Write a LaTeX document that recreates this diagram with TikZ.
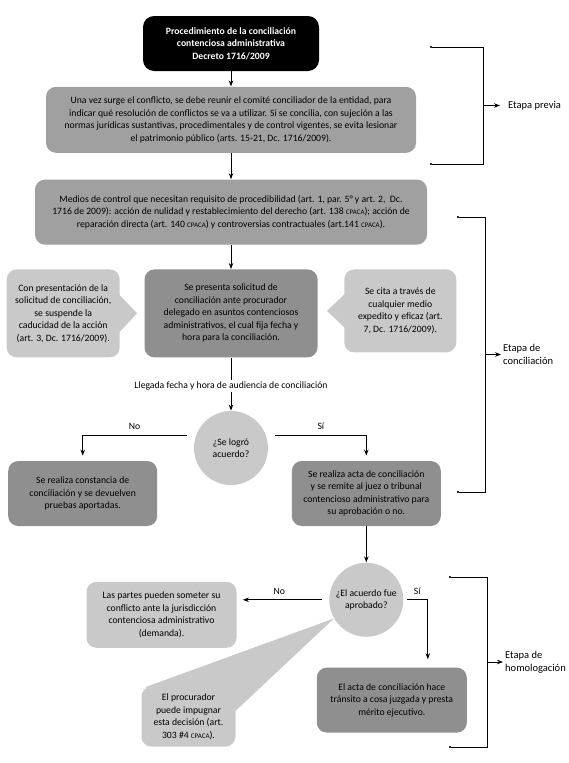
\documentclass[tikz,border=0pt]{standalone}
\usepackage{fontspec}
\setmainfont{Carlito}
\usetikzlibrary{arrows.meta}
\usetikzlibrary{positioning}
\usetikzlibrary{calc}
\usetikzlibrary{backgrounds}

\definecolor{darkfill}{HTML}{8F8F8F}
\definecolor{midfill}{HTML}{A0A0A0}
\definecolor{lightfill}{HTML}{C9C9C9}

\newcommand{\cpaca}{{\fontsize{7}{7}\selectfont CPACA}}

\begin{document}
\begin{tikzpicture}[
          x=1pt, y=-1pt,
          >={Stealth[length=6pt,width=4.5pt]}, line width=0.8pt,
          every node/.style={font=\fontsize{9.7}{12.5}\selectfont}
        ]

          % styles
          \tikzstyle{headbox}=[rectangle, rounded corners=11pt, fill=black, text=white, font=\fontsize{9.7}{12.5}\selectfont\bfseries, align=center, minimum width=176pt, minimum height=55pt]
          \tikzstyle{midbox}=[rectangle, rounded corners=10pt, fill=midfill, align=center, inner sep=2pt]
          \tikzstyle{darkbox}=[rectangle, rounded corners=10pt, fill=darkfill, align=center, inner sep=2pt]
          \tikzstyle{lightbox}=[rectangle, rounded corners=10pt, fill=lightfill, align=center, inner sep=2pt]
          \tikzstyle{question}=[circle, fill=lightfill, align=center, minimum size=74pt, inner sep=0pt]
          \tikzstyle{flow}=[->, line width=0.8pt]
          \tikzstyle{link}=[-, line width=0.8pt]
          \tikzstyle{branch}=[inner sep=1pt, text height=7pt, text depth=2pt]
          \tikzstyle{stagebracket}=[{Circle[length=2pt]}-{Circle[length=2pt]}, line width=0.8pt]
          \tikzstyle{stage}=[align=left, inner sep=2pt, font=\fontsize{10.5}{13}\selectfont]

          \useasboundingbox (0,0) rectangle (568,763);

          % main column
          \node[headbox] (title) at (231,43.5) {Procedimiento de la conciliación\\contenciosa administrativa\\Decreto 1716/2009};
          \node[midbox, minimum width=370pt, minimum height=66pt, below=15pt of title] (intro) {Una vez surge el conflicto, se debe reunir el comité conciliador de la entidad, para\\indicar qué resolución de conflictos se va a utilizar. Si se concilia, con sujeción a las\\normas jurídicas sustantivas, procedimentales y de control vigentes, se evita lesionar\\el patrimonio público (arts. 15-21, Dc. 1716/2009).};
          \node[midbox, minimum width=392pt, minimum height=65pt, below=26pt of intro] (medios) {Medios de control que necesitan requisito de procedibilidad (art. 1, par. 5° y art. 2,\ \ Dc.\\1716 de 2009): acción de nulidad y restablecimiento del derecho (art. 138 \cpaca); acción de\\reparación directa (art. 140 \cpaca) y controversias contractuales (art.141 \cpaca).};
          \node[darkbox, minimum width=173pt, minimum height=88pt, below=24pt of medios] (solicitud) {Se presenta solicitud de\\conciliación ante procurador\\delegado en asuntos contenciosos\\administrativos, el cual fija fecha y\\hora para la conciliación.};

          % side notes
          \node[lightbox, minimum width=113pt, minimum height=88pt, left=24pt of solicitud] (suspende) {Con presentación de la\\solicitud de conciliación,\\se suspende la\\caducidad de la acción\\(art. 3, Dc. 1716/2009).};
          \node[lightbox, minimum width=112pt, minimum height=83pt, right=26pt of solicitud.north east, anchor=north west] (cita) {Se cita a través de\\cualquier medio\\expedito y eficaz (art.\\7, Dc. 1716/2009).};

          % hearing and first decision
          \node[branch, below=22pt of solicitud] (llegada) {Llegada fecha y hora de audiencia de conciliación};
          \node[question, below=19pt of llegada] (acuerdo) {¿Se logró\\acuerdo?};
          \node[darkbox, minimum width=149pt, minimum height=65pt, left=36pt of acuerdo, yshift=-45.5pt] (constancia) {Se realiza constancia de\\conciliación y se devuelven\\pruebas aportadas.};
          \node[darkbox, minimum width=149pt, minimum height=65pt, right=23pt of acuerdo, yshift=-45.5pt] (acta) {Se realiza acta de conciliación\\y se remite al juez o tribunal\\contencioso administrativo para\\su aprobación o no.};

          % approval
          \node[question, below=36pt of acta] (aprobado) {¿El acuerdo fue\\aprobado?};
          \node[lightbox, minimum width=150pt, minimum height=66pt, left=92pt of aprobado, yshift=-15pt] (partes) {Las partes pueden someter su\\conflicto ante la jurisdicción\\contenciosa administrativo\\(demanda).};
          \node[lightbox, minimum width=94pt, minimum height=60pt, below=38pt of partes, xshift=27pt] (procurador) {El procurador\\puede impugnar\\esta decisión (art.\\303 \#4 \cpaca).};
          \node[darkbox, minimum width=150pt, minimum height=65pt, below=30pt of aprobado, xshift=25.5pt] (efecto) {El acta de conciliación hace\\tránsito a cosa juzgada y presta\\mérito ejecutivo.};

          % callout pointers
          \begin{pgfonlayer}{background}
            \fill[lightfill] ($(suspende.east)+(-1,-19)$) -- ($(suspende.east)+(17,0)$) -- ($(suspende.east)+(-1,19)$) -- cycle;
            \fill[lightfill] ($(cita.west)+(1,-17)$) -- ($(cita.west)+(-17,0)$) -- ($(cita.west)+(1,17)$) -- cycle;
            \fill[lightfill] ($(procurador.north west)+(4,1)$) -- (aprobado.210) -- ($(procurador.east)+(0,-6)$) -- cycle;
          \end{pgfonlayer}

          % edges
          \draw[flow] (title) -- (intro);
          \draw[flow] (intro) -- (medios);
          \draw[flow] (medios) -- (solicitud);
          \draw[link] (solicitud) -- (llegada);
          \draw[flow] (llegada) -- (acuerdo);

          \draw[flow, shorten >=5pt] ($(acuerdo.west)+(-7,-13)$) -| (constancia.north) node[branch, pos=0.25, above=2pt] {No};
          \draw[flow, shorten >=5pt] ($(acuerdo.east)+(7,-13)$) -| (acta.north) node[branch, pos=0.25, above=2pt] {Sí};

          \draw[flow] (acta) -- (aprobado);
          \draw[flow, shorten >=6pt] ($(aprobado.west)+(-7,0)$) -- (aprobado.west -| partes.east) node[branch, midway, above=2pt] {No};
          \draw[flow, shorten >=8pt] ($(aprobado.east)+(3,0)$) -| ([xshift=36pt]efecto.north) node[branch, pos=0.25, above=2pt] {Sí};

          % stage brackets
          \draw[stagebracket] (430,47) -- (483,47) -- (483,164) -- (430,164);
          \draw[stagebracket] (457,217) -- (485,217) -- (485,492) -- (457,492);
          \draw[stagebracket] (449,577) -- (487,577) -- (487,747) -- (449,747);

          \coordinate (previamid) at (483,105.5);
          \coordinate (concmid) at (485,354.5);
          \coordinate (homomid) at (487,662);

          \node[stage, right=23pt of previamid] (previa) {Etapa previa};
          \node[stage, right=16pt of concmid] (conciliacion) {Etapa de\\conciliación};
          \node[stage, right=16pt of homomid] (homologacion) {Etapa de\\homologación};

          \draw[flow, shorten >=6pt] (previamid) -- (previa);
          \draw[flow] (concmid) -- (conciliacion);
          \draw[flow] (homomid) -- (homologacion);

        \end{tikzpicture}
\end{document}
